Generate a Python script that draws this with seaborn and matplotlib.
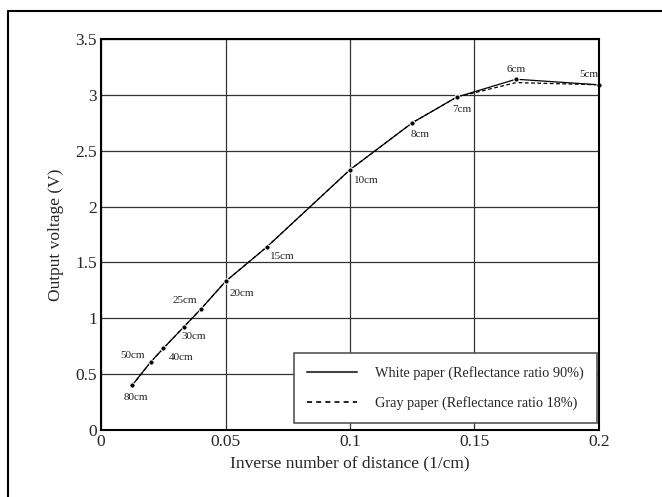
import matplotlib

matplotlib.use("Agg")
import matplotlib.pyplot as plt
import pandas as pd
import seaborn as sns
from matplotlib.lines import Line2D

# distances (cm) and measured output voltage
distance_cm = [80, 50, 40, 30, 25, 20, 15, 10, 8, 7, 6, 5]
white_volts = [0.40, 0.61, 0.73, 0.925, 1.08, 1.33, 1.64, 2.33, 2.75, 2.98, 3.14, 3.09]
gray_volts = [0.40, 0.61, 0.73, 0.925, 1.08, 1.33, 1.64, 2.33, 2.75, 2.98, 3.11, 3.09]
x_ticks = [0, 0.05, 0.1, 0.15, 0.2]
x_tick_labels = ["0", "0.05", "0.1", "0.15", "0.2"]
y_ticks = [0, 0.5, 1, 1.5, 2, 2.5, 3, 3.5]
y_tick_labels = ["0", "0.5", "1", "1.5", "2", "2.5", "3", "3.5"]

# label placement offsets (points) per distance label
label_offsets = {
    80: (-6, -12), 50: (-22, 1), 40: (4, -10), 30: (-2, -10),
    25: (-20, 3), 20: (3, -12), 15: (2, -10), 10: (3, -11),
    8: (-1, -12), 7: (-3, -12), 6: (-7, 4), 5: (-14, 4),
}

df = pd.DataFrame({
    "inv": [1.0 / d for d in distance_cm],
    "white": white_volts,
    "gray": gray_volts,
    "dist": distance_cm,
})

sns.set_style("white")
plt.rcParams["font.family"] = ["Liberation Serif", "DejaVu Serif"]

fig = plt.figure(figsize=(6.62, 4.97), dpi=100)
ax = fig.add_axes([0.1526, 0.1348, 0.7522, 0.7867])

sns.lineplot(data=df, x="inv", y="gray", ax=ax, color="black", lw=0.9,
             linestyle=(0, (3, 2)), sort=False, label="Gray paper (Reflectance ratio 18%)")
sns.lineplot(data=df, x="inv", y="white", ax=ax, color="black", lw=0.9,
             marker="o", markersize=3.8, sort=False, clip_on=False,
             label="White paper (Reflectance ratio 90%)")

for _, row in df.iterrows():
    dx, dy = label_offsets[int(row["dist"])]
    ax.annotate(f"{int(row['dist'])}cm", (row["inv"], row["white"]),
                xytext=(dx, dy), textcoords="offset points",
                fontsize=8, color="#222222", va="bottom", ha="left")

ax.set_xlim(0, 0.2)
ax.set_ylim(0, 3.5)
ax.set_xticks(x_ticks)
ax.set_xticklabels(x_tick_labels, fontsize=12.5)
ax.set_yticks(y_ticks)
ax.set_yticklabels(y_tick_labels, fontsize=12.5)
ax.tick_params(length=0, pad=3)
ax.set_xlabel("Inverse number of distance (1/cm)", fontsize=12.5, labelpad=4)
ax.set_ylabel("Output voltage (V)", fontsize=12.5, labelpad=8)

ax.grid(True, color="#333333", lw=0.9)
for s in ax.spines.values():
    s.set_color("black")
    s.set_linewidth(1.5)

handles = [
    Line2D([], [], color="#444444", lw=1.5),
    Line2D([], [], color="black", lw=1.2, linestyle=(0, (3, 2.5))),
]
leg = ax.legend(handles, ["White paper (Reflectance ratio 90%)",
                          "Gray paper (Reflectance ratio 18%)"],
                loc="lower right", bbox_to_anchor=(0.996, 0.018), borderaxespad=0,
                fontsize=10.3, frameon=True, fancybox=False,
                handlelength=3.5, handletextpad=1.3, borderpad=0.9,
                labelspacing=1.15, edgecolor="#555555", framealpha=1)
leg.get_frame().set_linewidth(1.2)

# outer page frame
fig.add_artist(Line2D([8 / 662, 8 / 662], [0, 1 - 11 / 497], color="black", lw=1.5,
                      transform=fig.transFigure))
fig.add_artist(Line2D([8 / 662, 1], [1 - 11 / 497, 1 - 11 / 497], color="black", lw=1.5,
                      transform=fig.transFigure))

fig.savefig("out.png", dpi=100)
plt.close(fig)
